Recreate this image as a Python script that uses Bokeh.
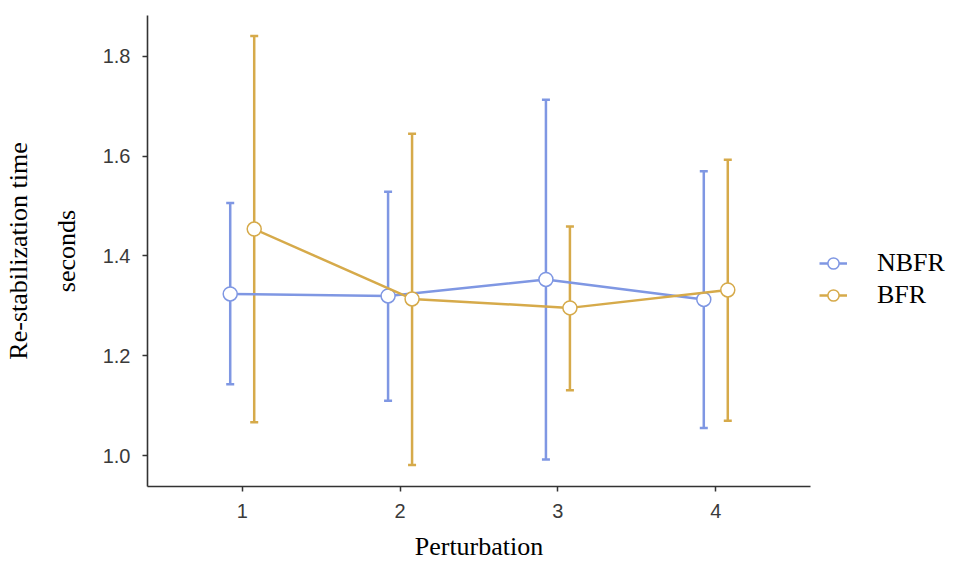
from bokeh.plotting import figure
from bokeh.layouts import row
from bokeh.models import (ColumnDataSource, Range1d, FixedTicker, LinearAxis, Whisker,
                          TeeHead, Legend, LegendItem, NumeralTickFormatter)
from bokeh.transform import dodge
from bokeh.embed import file_html
from bokeh.resources import INLINE

# ---- data ----
perturbation = [1, 2, 3, 4]
nbfr_mean = [1.324, 1.320, 1.353, 1.313]
nbfr_upper = [1.506, 1.529, 1.713, 1.570]
nbfr_lower = [1.143, 1.110, 0.992, 1.055]
bfr_mean = [1.454, 1.314, 1.296, 1.332]
bfr_upper = [1.841, 1.645, 1.459, 1.593]
bfr_lower = [1.067, 0.981, 1.131, 1.070]
x_ticks = [1, 2, 3, 4]
y_ticks = [1.0, 1.2, 1.4, 1.6, 1.8]
series_names = ["NBFR", "BFR"]

BLUE = "#7f97e3"
GOLD = "#d6aa4a"
SERIF = "Liberation Serif"
SANS = "Liberation Sans"
DODGE = 0.076

p = figure(width=815, height=570, output_backend="svg", toolbar_location=None,
           x_range=Range1d(0.4, 4.6), y_range=Range1d(0.938, 1.882),
           min_border_left=147, min_border_right=5, min_border_top=15,
           min_border_bottom=84)
p.xgrid.visible = False
p.ygrid.visible = False
p.outline_line_color = None
p.background_fill_color = "white"
p.border_fill_color = "white"

src_n = ColumnDataSource(dict(x=perturbation, m=nbfr_mean, u=nbfr_upper, l=nbfr_lower))
src_b = ColumnDataSource(dict(x=perturbation, m=bfr_mean, u=bfr_upper, l=bfr_lower))
sources = [src_n, src_b]
colors = [BLUE, GOLD]

for src, col, off in zip(sources, colors, [-DODGE, DODGE]):
    w = Whisker(source=src, base=dodge("x", off), upper="u", lower="l",
                dimension="height", line_color=col, line_width=2.5,
                upper_head=TeeHead(size=8, line_color=col, line_width=2.5),
                lower_head=TeeHead(size=8, line_color=col, line_width=2.5))
    p.add_layout(w)
    p.line(x=dodge("x", off), y="m", source=src, line_color=col, line_width=2.5)
    p.scatter(x=dodge("x", off), y="m", source=src, size=14, marker="circle",
              fill_color="white", line_color=col, line_width=1.5)

# axes styling
for ax in [p.xaxis[0], p.yaxis[0]]:
    ax.axis_line_color = "#333333"
    ax.axis_line_width = 1.6
    ax.major_tick_line_color = "#333333"
    ax.major_tick_line_width = 1.5
    ax.major_tick_in = 0
    ax.major_tick_out = 5
    ax.minor_tick_line_color = None
    ax.major_label_text_font = SANS
    ax.major_label_text_font_size = "20px"
    ax.major_label_text_color = "#3a3a3a"
    ax.major_label_standoff = 12
    ax.axis_label_text_font = SERIF
    ax.axis_label_text_font_size = "26px"
    ax.axis_label_text_font_style = "normal"
    ax.axis_label_text_color = "black"

p.xaxis[0].ticker = FixedTicker(ticks=x_ticks)
p.yaxis[0].ticker = FixedTicker(ticks=y_ticks)
p.yaxis[0].formatter = NumeralTickFormatter(format="0.0")
p.xaxis[0].axis_label = "Perturbation"
p.xaxis[0].axis_label_standoff = 11
p.yaxis[0].axis_label = "seconds"
p.yaxis[0].axis_label_standoff = 19

outer = LinearAxis(axis_label="Re-stabilization time", ticker=FixedTicker(ticks=[]),
                   axis_line_color=None, major_tick_line_color=None,
                   minor_tick_line_color=None, major_tick_out=0, major_tick_in=0,
                   major_label_standoff=0, axis_label_standoff=16,
                   axis_label_text_font=SERIF, axis_label_text_font_size="26px",
                   axis_label_text_font_style="normal", axis_label_text_color="black")
p.add_layout(outer, "left")

# ---- legend panel (separate small figure; its glyphs lie outside its view) ----
q = figure(width=149, height=570, output_backend="svg", toolbar_location=None,
           x_axis_type=None, y_axis_type=None, x_range=Range1d(0, 1), y_range=Range1d(-2, -1),
           min_border_left=0, min_border_right=0, min_border_top=0, min_border_bottom=0)
q.xgrid.visible = False
q.ygrid.visible = False
q.outline_line_color = None
q.border_fill_color = "white"

items = []
for name, src, col in zip(series_names, sources, colors):
    ln = q.line(x="x", y="m", source=src, line_color=col, line_width=2.5)
    sc = q.scatter(x="x", y="m", source=src, size=14, marker="circle", fill_color="white",
                   line_color=col, line_width=1.5)
    items.append(LegendItem(label=name, renderers=[ln, sc]))

legend = Legend(items=items, location=(4, 176), border_line_color=None,
                background_fill_alpha=0, padding=0, margin=0, spacing=2,
                glyph_width=28, glyph_height=30, label_height=20, label_standoff=30,
                label_text_font=SERIF, label_text_font_size="26px",
                label_text_color="black")
q.add_layout(legend)

layout = row(p, q, spacing=0)
open("out.html", "w").write(file_html(layout, INLINE))
